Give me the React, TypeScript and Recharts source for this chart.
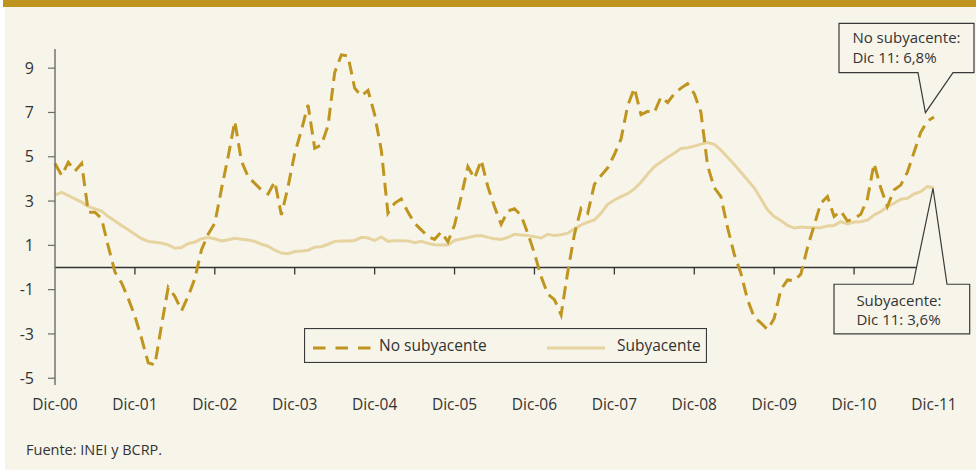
import { LineChart, Line, XAxis, YAxis, ReferenceLine, ReferenceDot, Legend } from 'recharts';

// Inflación no subyacente y subyacente, var. % 12 meses, Dic-00 a Dic-11 (mensual)
const yearLabels = ['Dic-00', 'Dic-01', 'Dic-02', 'Dic-03', 'Dic-04', 'Dic-05', 'Dic-06', 'Dic-07', 'Dic-08', 'Dic-09', 'Dic-10', 'Dic-11'];
const yTicks = [-5, -3, -1, 1, 3, 5, 7, 9];

const noSubyacente = [
  4.7, 4.15, 4.75, 4.35, 4.7, 2.5, 2.5, 2.2, 0.95, -0.2, -0.7, -1.4,
  -2.2, -3.2, -4.3, -4.4, -2.6, -0.9, -1.3, -1.95, -1.3, -0.5, 0.8, 1.5,
  2.0, 3.55, 5.0, 6.6, 4.8, 4.1, 3.8, 3.5, 3.32, 3.88, 2.37, 3.65,
  5.15, 6.2, 7.34, 5.38, 5.53, 6.4, 8.8, 9.6, 9.55, 8.1, 7.75, 8.0,
  6.9, 5.3, 2.45, 2.9, 3.1, 2.5, 2.0, 1.7, 1.4, 1.27, 1.6, 1.16,
  1.92, 3.2, 4.55, 4.02, 4.85, 3.65, 2.74, 1.95, 2.55, 2.65, 2.35, 1.54,
  0.64, -0.41, -1.2, -1.45, -2.14, -0.2, 1.5, 2.67, 2.45, 3.75, 4.15, 4.5,
  5.1, 5.8, 7.3, 8.1, 6.9, 7.05, 7.0, 7.7, 7.45, 7.85, 8.1, 8.3,
  7.85, 7.0, 4.6, 3.6, 3.2, 1.8, 0.6, -0.26, -1.45, -2.25, -2.5, -2.8,
  -2.3, -1.0, -0.56, -0.6, -0.3, 0.9, 1.9, 2.9, 3.2, 2.3, 2.55, 2.1,
  2.2, 2.4, 3.1, 4.7, 3.6, 2.75, 3.5, 3.72, 4.3, 5.2, 6.1, 6.6,
  6.8,
];

const subyacente = [
  3.27, 3.39, 3.25, 3.1, 2.95, 2.75, 2.66, 2.55, 2.3, 2.1, 1.9, 1.7,
  1.5, 1.3, 1.18, 1.14, 1.1, 1.02, 0.87, 0.9, 1.08, 1.15, 1.3, 1.35,
  1.3, 1.2, 1.25, 1.32, 1.28, 1.24, 1.18, 1.05, 0.96, 0.78, 0.65, 0.62,
  0.72, 0.74, 0.78, 0.92, 0.94, 1.05, 1.18, 1.2, 1.2, 1.22, 1.36, 1.33,
  1.22, 1.38, 1.18, 1.21, 1.21, 1.2, 1.12, 1.18, 1.09, 1.03, 1.02, 1.02,
  1.22, 1.29, 1.35, 1.42, 1.44, 1.36, 1.3, 1.27, 1.36, 1.5, 1.47, 1.45,
  1.39, 1.33, 1.5, 1.44, 1.48, 1.55, 1.75, 1.92, 2.05, 2.15, 2.45, 2.85,
  3.05, 3.2, 3.33, 3.55, 3.85, 4.22, 4.55, 4.76, 4.98, 5.16, 5.37, 5.41,
  5.48, 5.57, 5.64, 5.56, 5.3, 4.98, 4.65, 4.3, 3.95, 3.6, 3.1, 2.6,
  2.3, 2.12, 1.9, 1.78, 1.83, 1.81, 1.79, 1.8, 1.87, 1.9, 2.07, 1.97,
  2.05, 2.07, 2.14, 2.37, 2.52, 2.75, 2.9, 3.08, 3.12, 3.32, 3.42, 3.65,
  3.6,
];

const GOLD = '#C0951F';
const BEIGE = '#E6D3A0';
const INK = '#333333';
const FRAME = '#3a3a3a';
const BG = '#F7F5EA';
const FONT = "'Open Sans', sans-serif";

const data = noSubyacente.map((v, i) => ({ mes: i, noSub: v, sub: subyacente[i] }));
const xTicks = yearLabels.map((_, k) => k * 12);
const last = data.length - 1;

// callout geometry, offsets from the data point the pointer refers to
const calloutNoSub = {
  box: [-95, 40, -93.6, -44.2], base: [-16, 19], tip: [-8.6, -4.2], up: false,
  lines: ['No subyacente:', 'Dic 11: 6,8%'], textX: -81.6, textY: [-73.4, -54.2],
};
const calloutSub = {
  box: [-100, 35.7, 96.5, 146.2], base: [-21, 13], tip: [-1, 0.5], up: true,
  lines: ['Subyacente:', 'Dic 11: 3,6%'], textX: -77.6, textY: [117.8, 137],
};

function Callout({ cx, cy, spec }: any) {
  const [x0, x1, y0, y1] = spec.box.map((d: number, k: number) => (k < 2 ? cx : cy) + d);
  const b0 = cx + spec.base[0];
  const b1 = cx + spec.base[1];
  const tx = cx + spec.tip[0];
  const ty = cy + spec.tip[1];
  const d = spec.up
    ? `M${x0},${y0} H${b0} L${tx},${ty} L${b1},${y0} H${x1} V${y1} H${x0} Z`
    : `M${x0},${y0} H${x1} V${y1} H${b1} L${tx},${ty} L${b0},${y1} H${x0} Z`;
  return (
    <g>
      <path d={d} fill={BG} stroke={FRAME} strokeWidth={1.2} />
      {spec.lines.map((t: string, k: number) => (
        <text key={t} x={cx + spec.textX} y={cy + spec.textY[k]} fill={INK} fontSize={15} fontFamily={FONT}>
          {t}
        </text>
      ))}
    </g>
  );
}

function LegendBox() {
  return (
    <svg width={403} height={35} style={{ display: 'block' }}>
      <rect x={0.5} y={0.5} width={402} height={34} fill={BG} stroke={FRAME} strokeWidth={1.2} />
      <line x1={9} x2={68} y1={20} y2={20} stroke={GOLD} strokeWidth={3} strokeDasharray="12.5 10" />
      <text x={75} y={22.5} fill={INK} fontSize={15.5} fontFamily={FONT}>No subyacente</text>
      <line x1={243} x2={301} y1={20} y2={20} stroke={BEIGE} strokeWidth={3} />
      <text x={313} y={22.5} fill={INK} fontSize={15.5} fontFamily={FONT}>Subyacente</text>
    </svg>
  );
}

export default function App() {
  return (
    <div style={{ position: 'absolute', left: 0, top: 0, width: 976, height: 473, background: '#fff', fontFamily: FONT }}>
      <div style={{ position: 'absolute', left: 5, top: 0, width: 971, height: 470, background: BG }} />
      <div style={{ position: 'absolute', left: 3, top: 0, width: 973, height: 7, background: GOLD }} />
      <div style={{ position: 'absolute', left: 0, top: 0 }}>
        <LineChart width={976} height={473} data={data} margin={{ top: 49, right: 42, bottom: 58, left: 5 }}>
          <XAxis
            dataKey="mes"
            type="number"
            domain={[0, 132]}
            ticks={xTicks}
            interval={0}
            tickFormatter={(v: number) => yearLabels[Math.round(v / 12)]}
            axisLine={false}
            tickLine={false}
            tickSize={0}
            tickMargin={14}
            height={30}
            tick={{ fill: INK, fontSize: 15.5 }}
          />
          <YAxis
            type="number"
            domain={[-5.305, 9.865]}
            allowDataOverflow
            ticks={yTicks}
            interval={0}
            width={50}
            axisLine={{ stroke: '#6b6b6b', strokeWidth: 1.4 }}
            tickLine={{ stroke: '#6b6b6b', strokeWidth: 1.2 }}
            tickSize={7}
            tickMargin={14}
            tick={{ fill: INK, fontSize: 16 }}
          />
          <ReferenceLine y={0} stroke={INK} strokeWidth={1.3} />
          {xTicks.slice(1).map((t) => (
            <ReferenceLine
              key={t}
              segment={[{ x: t, y: 0 }, { x: t, y: -0.316 }]}
              stroke={INK}
              strokeWidth={1.3}
            />
          ))}
          <Legend
            layout="horizontal"
            verticalAlign="middle"
            align="center"
            width={403}
            height={35}
            wrapperStyle={{ left: 304, top: 328, width: 403, height: 35 }}
            content={() => <LegendBox />}
          />
          <Line
            type="linear"
            dataKey="sub"
            name="Subyacente"
            stroke={BEIGE}
            strokeWidth={3}
            dot={false}
            activeDot={false}
            isAnimationActive={false}
          />
          <Line
            type="linear"
            dataKey="noSub"
            name="No subyacente"
            stroke={GOLD}
            strokeWidth={3}
            strokeDasharray="13 7"
            dot={false}
            activeDot={false}
            isAnimationActive={false}
          />
          <ReferenceDot
            x={last}
            y={noSubyacente[last]}
            r={0}
            shape={(p: any) => <Callout cx={p.cx} cy={p.cy} spec={calloutNoSub} />}
          />
          <ReferenceDot
            x={last}
            y={subyacente[last]}
            r={0}
            shape={(p: any) => <Callout cx={p.cx} cy={p.cy} spec={calloutSub} />}
          />
        </LineChart>
      </div>
      <div style={{ position: 'absolute', left: 26, top: 442, fontSize: 14.5, lineHeight: '15px', color: INK, whiteSpace: 'nowrap' }}>
        Fuente: INEI y BCRP.
      </div>
    </div>
  );
}
